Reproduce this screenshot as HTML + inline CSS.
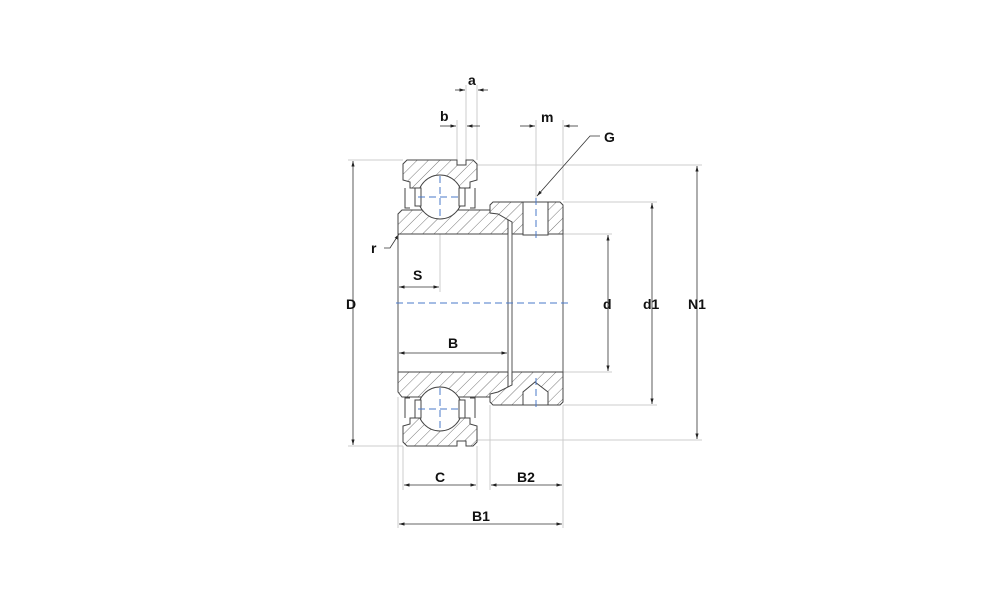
<!DOCTYPE html>
<html><head><style>body{margin:0;background:#fff}svg{display:block}text{font-family:"Liberation Sans",sans-serif;font-weight:bold;font-size:14px;fill:#111}</style></head>
<body>
<svg width="1000" height="611" viewBox="0 0 1000 611" xmlns="http://www.w3.org/2000/svg">
<defs>
<pattern id="h" width="8" height="8" patternUnits="userSpaceOnUse" patternTransform="rotate(45)">
<rect width="8" height="8" fill="#fff"/><line x1="0" y1="0" x2="0" y2="8" stroke="#555" stroke-width="0.8"/></pattern>
<marker id="ar" markerWidth="8" markerHeight="6" refX="7" refY="3" orient="auto"><path d="M0,1 L7,3 L0,5z" fill="#222"/></marker>
</defs>
<g stroke="#ccc" stroke-width="1" fill="none">
<line x1="348" y1="160" x2="403" y2="160"/><line x1="348" y1="446" x2="403" y2="446"/>
<line x1="477" y1="165" x2="702" y2="165"/><line x1="477" y1="440" x2="702" y2="440"/>
<line x1="563" y1="202" x2="657" y2="202"/><line x1="563" y1="405" x2="657" y2="405"/>
<line x1="563" y1="234" x2="612" y2="234"/><line x1="563" y1="372" x2="612" y2="372"/>
<line x1="466" y1="85" x2="466" y2="160"/><line x1="477" y1="85" x2="477" y2="160"/>
<line x1="457" y1="120" x2="457" y2="160"/>
<line x1="536" y1="120" x2="536" y2="200"/><line x1="563" y1="120" x2="563" y2="200"/>
<line x1="403" y1="446" x2="403" y2="490"/><line x1="477" y1="446" x2="477" y2="490"/>
<line x1="490" y1="405" x2="490" y2="490"/><line x1="563" y1="405" x2="563" y2="528"/>
<line x1="398" y1="397" x2="398" y2="528"/>
<line x1="440" y1="197" x2="440" y2="292"/>
</g>
<g stroke="#333" stroke-width="0.8" fill="none" marker-end="url(#ar)">
<line x1="353" y1="303" x2="353" y2="161"/><line x1="353" y1="303" x2="353" y2="445"/>
<line x1="697" y1="303" x2="697" y2="166"/><line x1="697" y1="303" x2="697" y2="439"/>
<line x1="652" y1="303" x2="652" y2="203"/><line x1="652" y1="303" x2="652" y2="404"/>
<line x1="608" y1="303" x2="608" y2="235"/><line x1="608" y1="303" x2="608" y2="371"/>
<line x1="440" y1="485" x2="404" y2="485"/><line x1="440" y1="485" x2="476" y2="485"/>
<line x1="527" y1="485" x2="491" y2="485"/><line x1="527" y1="485" x2="562" y2="485"/>
<line x1="480" y1="524" x2="399" y2="524"/><line x1="480" y1="524" x2="562" y2="524"/>
<line x1="420" y1="287" x2="399" y2="287"/><line x1="420" y1="287" x2="439" y2="287"/>
<line x1="455" y1="353" x2="399" y2="353"/><line x1="455" y1="353" x2="507" y2="353"/>
<line x1="455" y1="90" x2="465" y2="90"/><line x1="488" y1="90" x2="478" y2="90"/>
<line x1="440" y1="126" x2="456" y2="126"/><line x1="480" y1="126" x2="467" y2="126"/>
<line x1="520" y1="126" x2="535" y2="126"/><line x1="578" y1="126" x2="564" y2="126"/>
<polyline points="600,136 590,136 537,196"/>
<polyline points="384,248 390,248 399,234"/>
</g>
<g stroke="#444" stroke-width="1" fill="url(#h)">
<path d="M407,160 L457,160 L457,165 L466,165 L466,160 L473,160 L477,164 L477,180 L470,182 L470,188 L410,188 L410,182 L403,180 L403,164Z"/>
<path d="M402,210 L490,210 L494,205 L505,210 L508,214 L508,234 L398,234 L398,214Z"/>
<path d="M493,202 L560,202 L563,205 L563,234 L512,234 L512,222 L498,214 L490,213 L490,205Z"/>
<path d="M398,372 L508,372 L508,392 L505,397 L402,397 L398,392Z"/>
<path d="M512,372 L563,372 L563,402 L560,405 L493,405 L490,402 L490,394 L498,392 L512,385Z"/>
<path d="M403,426 L410,424 L410,418 L470,418 L470,424 L477,426 L477,442 L473,446 L466,446 L466,441 L457,441 L457,446 L407,446 L403,442Z"/>
</g>
<g stroke="#444" stroke-width="1" fill="#fff">
<rect x="523" y="202" width="25" height="33"/>
<path d="M523,405 L523,392 L535,382 L548,392 L548,405Z"/>
<circle cx="440" cy="197" r="22"/><circle cx="440" cy="409" r="22"/>
<path d="M405,188 L405,208 L410,208 M475,188 L475,208 L470,208" fill="none"/>
<path d="M405,418 L405,398 L410,398 M475,418 L475,398 L470,398" fill="none"/>
<rect x="415" y="188" width="6" height="18"/><rect x="459" y="188" width="6" height="18"/>
<rect x="415" y="400" width="6" height="18"/><rect x="459" y="400" width="6" height="18"/>
</g>
<g stroke="#555" stroke-width="1" fill="none">
<line x1="398" y1="234" x2="398" y2="372"/>
<line x1="508" y1="234" x2="508" y2="372"/><line x1="512" y1="234" x2="512" y2="372"/>
<line x1="563" y1="234" x2="563" y2="372"/>
</g>
<g stroke="#4a78c8" stroke-width="1" stroke-dasharray="7,4" fill="none">
<line x1="396" y1="303" x2="568" y2="303"/>
<line x1="418" y1="197" x2="462" y2="197"/><line x1="440" y1="176" x2="440" y2="220"/>
<line x1="418" y1="409" x2="462" y2="409"/><line x1="440" y1="388" x2="440" y2="430"/>
<line x1="536" y1="198" x2="536" y2="238"/><line x1="536" y1="378" x2="536" y2="408"/>
</g>
<text x="346" y="309">D</text>
<text x="603" y="309">d</text>
<text x="643" y="309">d1</text>
<text x="688" y="309">N1</text>
<text x="413" y="280">S</text>
<text x="448" y="348">B</text>
<text x="435" y="482">C</text>
<text x="517" y="482">B2</text>
<text x="472" y="521">B1</text>
<text x="468" y="85">a</text>
<text x="440" y="121">b</text>
<text x="541" y="122">m</text>
<text x="604" y="142">G</text>
<text x="371" y="253">r</text>
</svg>
</body></html>
